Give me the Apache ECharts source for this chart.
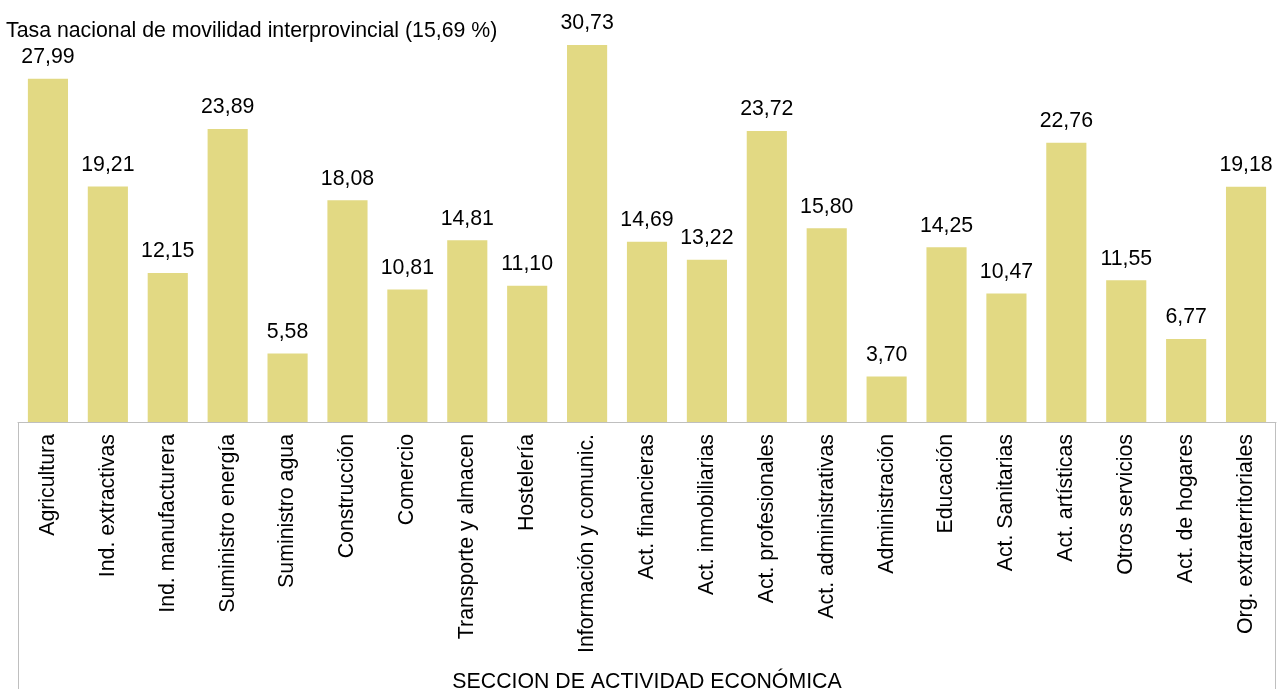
<!DOCTYPE html>
<html>
<head>
<meta charset="utf-8">
<script src="https://cdn.jsdelivr.net/npm/echarts@6/dist/echarts.min.js"></script>
<style>html,body{margin:0;padding:0;background:#fff;overflow:hidden}#c{width:1283px;height:689px}</style>
</head>
<body>
<div id="c"></div>
<script>
const categories = ["Agricultura","Ind. extractivas","Ind. manufacturera","Suministro energía","Suministro agua","Construcción","Comercio","Transporte y almacen","Hostelería","Información y comunic.","Act. financieras","Act. inmobiliarias","Act. profesionales","Act. administrativas","Administración","Educación","Act. Sanitarias","Act. artísticas","Otros servicios","Act. de hogares","Org. extraterritoriales"];
const values = [27.99,19.21,12.15,23.89,5.58,18.08,10.81,14.81,11.10,30.73,14.69,13.22,23.72,15.80,3.70,14.25,10.47,22.76,11.55,6.77,19.18];
const titleText = "Tasa nacional de movilidad interprovincial (15,69 %)";
const axisName = "SECCION DE ACTIVIDAD ECONÓMICA";

const FONT = '"Liberation Sans", Arial, sans-serif';
const FS = 21.3;
const chart = echarts.init(document.getElementById('c'));
chart.setOption({
  animation: false,
  backgroundColor: '#fff',
  title: {
    text: titleText, left: 6, top: 21, padding: 0,
    textStyle: {fontFamily: FONT, fontSize: FS, fontWeight: 'normal', color: '#000'}
  },
  grid: {left: 18, right: 7, top: 5, height: 417, containLabel: false, outerBoundsMode: 'none'},
  xAxis: {
    type: 'category', data: categories,
    axisLine: {show: true, lineStyle: {color: '#BFBFBF', width: 1}},
    axisTick: {show: false},
    axisLabel: {rotate: 90, margin: 12, fontFamily: FONT, fontSize: FS, color: '#000', interval: 0},
    name: axisName, nameLocation: 'middle', nameGap: 250,
    nameTextStyle: {fontFamily: FONT, fontSize: FS, color: '#000'}
  },
  yAxis: {type: 'value', min: 0, max: 34, show: false, splitLine: {show: false}},
  series: [{
    type: 'bar', data: values, barWidth: '67%',
    itemStyle: {color: '#E2D983'},
    label: {show: true, position: 'top', distance: 11, fontFamily: FONT, fontSize: FS, color: '#000',
      formatter: p => p.value.toFixed(2).replace('.', ',')}
  }]
});
const rect = chart.getModel().getComponent('grid').coordinateSystem.getRect();
const x0 = Math.round(rect.x) + 0.5, x1 = Math.round(rect.x + rect.width) - 0.5, y0 = Math.round(rect.y + rect.height) + 0.5;
chart.setOption({
  graphic: [{
    type: 'polyline', silent: true,
    shape: {points: [[x0, 700], [x0, y0], [x1, y0], [x1, 700]]},
    style: {stroke: '#BFBFBF', lineWidth: 1, fill: null}
  }]
});
</script>
</body>
</html>
